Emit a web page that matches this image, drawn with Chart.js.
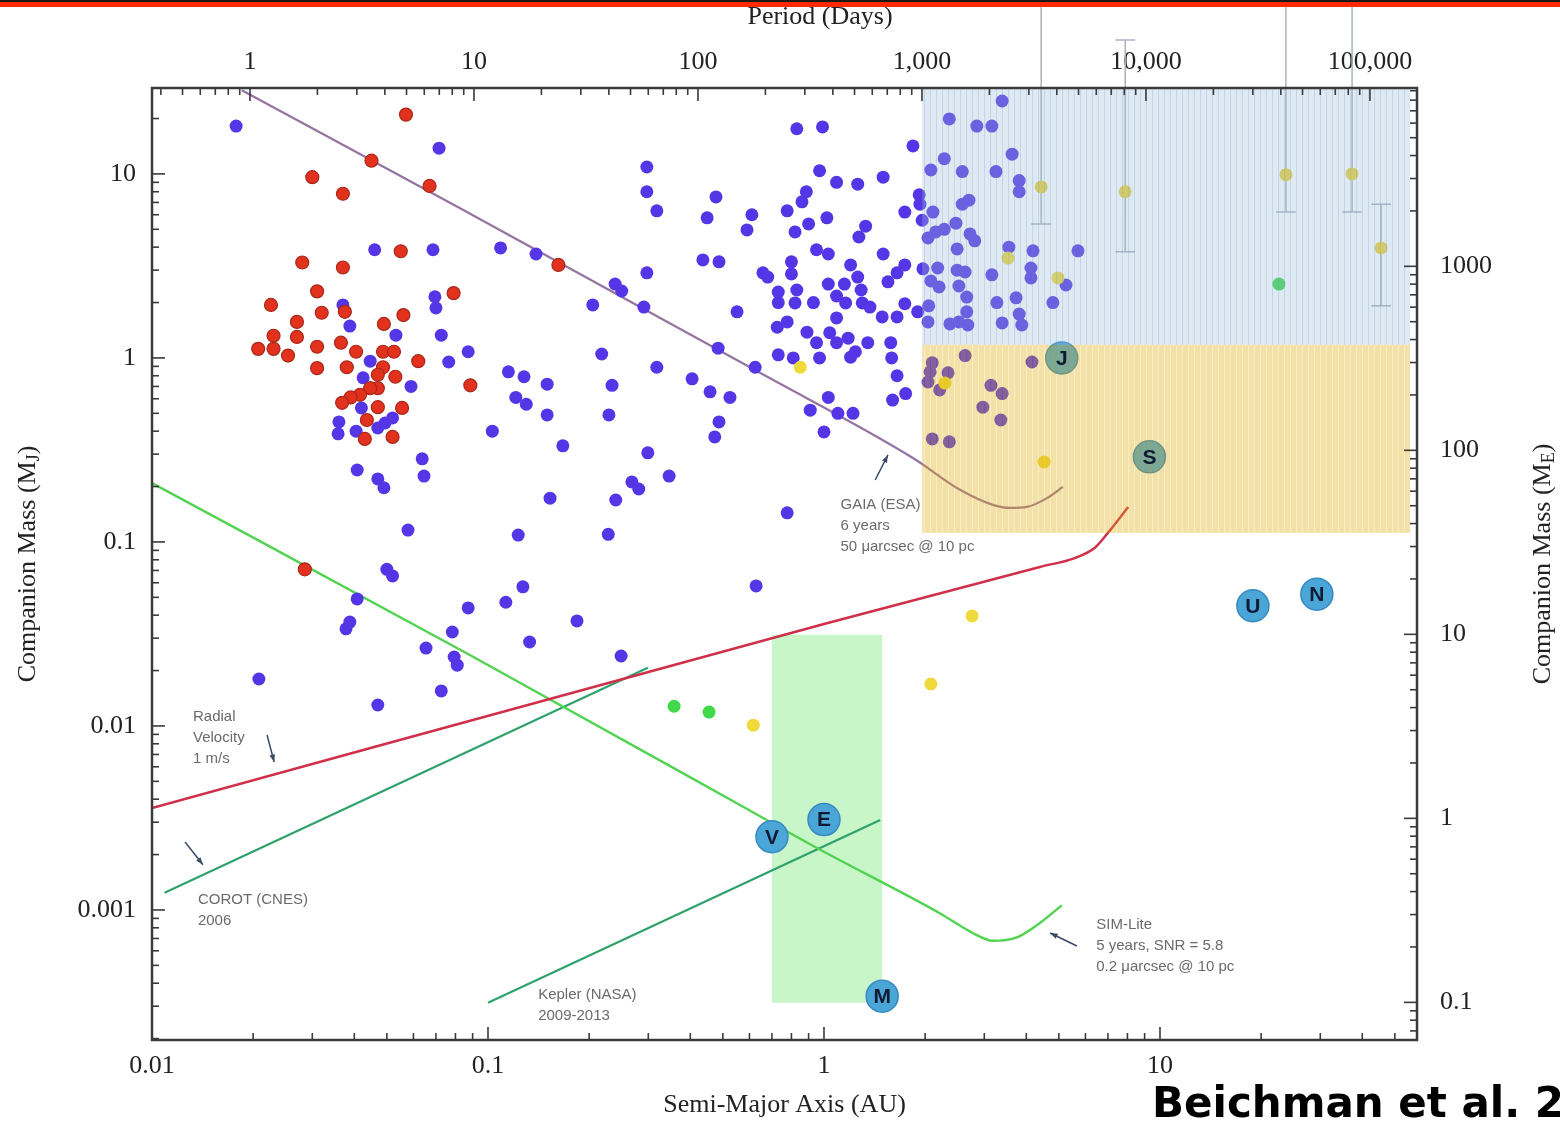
<!DOCTYPE html>
<html lang="en">
<head>
<meta charset="UTF-8" />
<title>Companion mass vs semi-major axis</title>
<script src="https://cdn.jsdelivr.net/npm/chart.js"></script>
<style>
  html, body { margin: 0; padding: 0; background: #fff; overflow: hidden; }
  #wrap { position: relative; width: 1560px; height: 1125px; }
  #topbar { position: absolute; left: 0; top: 0; width: 1560px; height: 5px; background: #ff2a00; border-top: 2px solid #1a1a1a; }
  #cite { position: absolute; left: 1152px; top: 1082px; font: bold 42px "DejaVu Sans", sans-serif; line-height: 42px; white-space: nowrap; color: #000; }
</style>
</head>
<body>
<div id="wrap">
  <canvas id="chart" width="1560" height="1125"></canvas>
  <div id="topbar"></div>
  <div id="cite">Beichman et al. 2009</div>
</div>
<script>
// axis ranges (AU, Jupiter masses) and conversions for the twin axes
const AU_MIN = 0.01, AU_MAX = 58.2;
const MJ_MIN = 0.0001965, MJ_MAX = 29.3;
const EARTH_PER_JUPITER = 317.8;
const DAYS_PER_YEAR = 365.25;

const X_TICKS = [0.01, 0.1, 1, 10];
const Y_TICKS = [0.001, 0.01, 0.1, 1, 10];
const PERIOD_TICKS = [1, 10, 100, 1000, 10000, 100000];
const EARTH_TICKS = [0.1, 1, 10, 100, 1000];

// known planets (blue dots)
const BLUE_AU = [
  0.0178, 0.0715, 0.046, 0.0686, 0.0695, 0.070, 0.037, 0.0388, 0.0532, 0.0726, 0.0764, 0.0873,
  0.0446, 0.0425, 0.059, 0.042, 0.036, 0.0405, 0.047, 0.0494, 0.052, 0.0358, 0.0637, 0.0645,
  0.0408, 0.047, 0.049, 0.0578, 0.050, 0.052, 0.0408, 0.0388, 0.0378, 0.0873, 0.0783, 0.0654,
  0.0793, 0.081, 0.0726, 0.0208, 0.047, 0.297, 0.297, 0.318, 0.477, 0.449, 0.61, 0.59,
  0.109, 0.139, 0.297, 0.436, 0.487, 0.658, 0.68, 0.239, 0.25, 0.205, 0.291, 0.551,
  0.731, 0.731, 0.726, 0.731, 0.115, 0.128, 0.15, 0.121, 0.130, 0.218, 0.234, 0.318,
  0.484, 0.624, 0.405, 0.458, 0.525, 0.15, 0.229, 0.487, 0.473, 0.103, 0.167, 0.299,
  0.346, 0.268, 0.281, 0.153, 0.24, 0.123, 0.228, 0.127, 0.113, 0.184, 0.133, 0.249,
  0.628, 0.83, 0.99, 1.84, 2.36, 2.85, 3.16, 3.39, 3.63, 2.28, 2.08, 2.58,
  3.25, 3.81, 3.81, 0.97, 1.09, 1.26, 1.50, 0.886, 0.86, 0.777, 1.02, 0.90,
  0.82, 1.33, 1.27, 1.74, 1.92, 1.93, 1.96, 2.11, 2.70, 2.58, 2.47, 2.28,
  2.15, 2.04, 2.72, 2.81, 0.95, 1.03, 1.50, 2.49, 3.55, 4.19, 5.7, 0.80,
  0.80, 1.20, 1.26, 1.74, 1.65, 1.55, 1.97, 2.18, 2.49, 2.63, 3.16, 4.13,
  4.13, 5.25, 1.03, 1.15, 0.83, 1.09, 1.29, 2.08, 2.2, 2.52, 2.66, 0.82,
  0.93, 1.16, 1.30, 1.37, 1.74, 1.90, 2.05, 2.66, 3.27, 3.73, 3.81, 4.80,
  1.49, 1.65, 1.09, 0.777, 2.04, 2.37, 2.52, 2.68, 3.39, 3.88, 0.89, 0.81,
  0.97, 0.95, 1.04, 1.18, 1.09, 1.24, 1.2, 1.35, 1.58, 1.59, 1.65, 1.75,
  1.6, 1.03, 0.91, 1.10, 1.22, 1.0, 0.777, 2.63, 2.10, 2.34, 2.07, 2.04,
  2.21, 3.14, 3.39, 2.97, 3.36, 4.16, 2.10, 2.36
];
const BLUE_MJ = [
  18.2, 13.8, 3.87, 3.87, 2.15, 1.87, 1.94, 1.49, 1.33, 1.33, 0.95, 1.08,
  0.96, 0.78, 0.70, 0.535, 0.449, 0.40, 0.416, 0.443, 0.472, 0.387, 0.283, 0.228,
  0.246, 0.22, 0.197, 0.116, 0.071, 0.0654, 0.049, 0.0367, 0.0337, 0.0438, 0.0324, 0.0265,
  0.0237, 0.0214, 0.0155, 0.018, 0.013, 10.9, 8.0, 6.3, 7.5, 5.77, 6.0, 4.96,
  3.96, 3.67, 2.9, 3.41, 3.33, 2.9, 2.75, 2.52, 2.31, 1.94, 1.89, 1.78,
  2.0, 2.28, 1.47, 1.04, 0.84, 0.79, 0.72, 0.61, 0.56, 1.05, 0.71, 0.89,
  1.13, 0.89, 0.77, 0.654, 0.61, 0.49, 0.49, 0.449, 0.372, 0.40, 0.333, 0.305,
  0.228, 0.212, 0.194, 0.173, 0.169, 0.109, 0.11, 0.057, 0.047, 0.0372, 0.0286, 0.024,
  0.0577, 17.6, 18.0, 14.2, 19.9, 18.2, 18.2, 24.9, 12.8, 12.1, 10.5, 10.3,
  10.3, 9.2, 8.0, 10.4, 9.0, 8.8, 9.6, 8.0, 7.05, 6.3, 5.77, 5.35,
  4.84, 5.2, 4.54, 6.2, 7.7, 6.85, 5.6, 6.2, 7.2, 6.85, 5.4, 5.0,
  4.84, 4.49, 4.72, 4.33, 3.87, 3.67, 3.67, 3.91, 4.0, 3.82, 3.82, 3.33,
  2.86, 3.2, 2.75, 3.2, 2.9, 2.59, 3.05, 3.08, 3.0, 2.93, 2.83, 3.08,
  2.72, 2.49, 2.52, 2.52, 2.34, 2.17, 2.34, 2.62, 2.43, 2.46, 2.14, 1.99,
  2.0, 1.99, 1.99, 1.89, 1.97, 1.78, 1.92, 1.78, 2.0, 2.12, 1.73, 2.0,
  1.67, 1.67, 1.65, 1.57, 1.57, 1.53, 1.57, 1.51, 1.55, 1.51, 1.38, 1.0,
  1.0, 1.21, 1.37, 1.28, 1.21, 1.08, 1.01, 1.21, 1.21, 1.0, 0.80, 0.64,
  0.59, 0.61, 0.52, 0.50, 0.50, 0.396, 0.144, 1.03, 0.94, 0.83, 0.84, 0.74,
  0.67, 0.71, 0.64, 0.54, 0.46, 0.95, 0.363, 0.35
];

// transiting planets (red dots)
const RED_AU = [
  0.057, 0.045, 0.067, 0.030, 0.037, 0.055, 0.028, 0.037, 0.031, 0.079, 0.0226, 0.032,
  0.0375, 0.056, 0.027, 0.049, 0.023, 0.027, 0.0207, 0.023, 0.031, 0.0365, 0.0254, 0.0405,
  0.0487, 0.0525, 0.062, 0.031, 0.038, 0.0487, 0.053, 0.047, 0.047, 0.0446, 0.0416, 0.039,
  0.0368, 0.047, 0.0555, 0.0886, 0.0436, 0.043, 0.052, 0.0285, 0.162
];
const RED_MJ = [
  21, 11.8, 8.6, 9.6, 7.8, 3.8, 3.3, 3.1, 2.3, 2.25, 1.94, 1.76,
  1.78, 1.71, 1.57, 1.53, 1.32, 1.30, 1.12, 1.12, 1.15, 1.21, 1.03, 1.08,
  1.08, 1.08, 0.96, 0.88, 0.89, 0.89, 0.79, 0.81, 0.685, 0.685, 0.63, 0.61,
  0.57, 0.54, 0.535, 0.71, 0.46, 0.363, 0.372, 0.071, 3.2
];

// imaging / microlensing (yellow dots), and those with error bars
const YELLOW_AU = [0.85, 3.53, 4.97, 2.29, 4.52, 2.76, 2.08, 0.616];
const YELLOW_MJ = [0.89, 3.49, 2.72, 0.73, 0.272, 0.0396, 0.0169, 0.0101];
const ERR_AU = [4.43, 7.88, 23.7, 37.3, 45.5];
const ERR_MJ = [8.5, 8.0, 9.9, 10.0, 3.96];
const ERR_LO = [5.35, 3.77, 6.2, 6.2, 1.92];
const ERR_HI = [90, 53.5, 90, 90, 6.85];
const ERR_CAP_HI = [false, true, false, false, true];
const ERR_CAP = 1.07;

// green dots
const GREEN_AU = [0.358, 0.455, 22.6];
const GREEN_MJ = [0.0128, 0.0119, 2.52];

// solar system planets
const PLANET_NAMES = ['V', 'E', 'M', 'J', 'S', 'U', 'N'];
const PLANET_AU = [0.70, 1.0, 1.49, 5.1, 9.3, 18.9, 29.3];
const PLANET_MJ = [0.0025, 0.0031, 0.00034, 1.0, 0.29, 0.045, 0.052];

// detection limit curves
const GAIA_AU = [0.0185, 0.0826, 0.645, 1.84, 2.54, 3.18, 3.58, 4.02, 4.61, 5.14];
const GAIA_MJ = [28.5, 6.5, 0.83, 0.286, 0.192, 0.159, 0.153, 0.155, 0.173, 0.199];
const SIM_AU = [0.01, 0.0883, 0.562, 0.953, 2.21, 2.77, 3.18, 3.75, 4.39, 5.1];
const SIM_MJ = [0.209, 0.0243, 0.00372, 0.00217, 0.00096, 0.00075, 0.00068, 0.00071, 0.00085, 0.00106];
const RV_AU = [0.01, 1.0, 4.39, 5.6, 6.4, 7.0, 8.04];
const RV_MJ = [0.00358, 0.0358, 0.0731, 0.082, 0.093, 0.112, 0.155];
const COROT_AU = [0.0109, 0.299];
const COROT_MJ = [0.00124, 0.0207];
const KEPLER_AU = [0.1, 1.47];
const KEPLER_MJ = [0.000313, 0.00308];

// shaded zones
const HZ_AU = [0.70, 1.49], HZ_MJ = [0.000313, 0.0313];
const BLUE_ZONE_AU = [1.96, 55.5], BLUE_ZONE_MJ = [1.18, 29.3];
const GOLD_ZONE_AU = [1.96, 55.5], GOLD_ZONE_MJ = [0.112, 1.18];

// annotations
const NOTE_TEXT = [
  ['GAIA (ESA)', '6 years', '50 μarcsec @ 10 pc'],
  ['Radial', 'Velocity', '1 m/s'],
  ['COROT (CNES)', '2006'],
  ['Kepler (NASA)', '2009-2013'],
  ['SIM-Lite', '5 years, SNR = 5.8', '0.2 μarcsec @ 10 pc']
];
const NOTE_AU = [1.12, 0.01324, 0.0137, 0.141, 6.46];
const NOTE_MJ = [0.159, 0.0112, 0.00113, 0.000345, 0.000828];
const ARROW_FROM_AU = [1.42, 0.022, 0.01254, 5.66];
const ARROW_FROM_MJ = [0.217, 0.00893, 0.00234, 0.000637];
const ARROW_TO_AU = [1.55, 0.0231, 0.01418, 4.71];
const ARROW_TO_MJ = [0.297, 0.00637, 0.00176, 0.00075];

const SERIF = '"Liberation Serif", "Times New Roman", serif';
const SANS = '"Liberation Sans", Arial, sans-serif';

const pts = (xs, ys) => xs.map((v, i) => ({ x: v, y: ys[i] }));

const errData = [];
ERR_AU.forEach((a, i) => {
  errData.push({ x: a, y: ERR_HI[i] }, { x: a, y: ERR_LO[i] }, { x: a, y: null });
  errData.push({ x: a / ERR_CAP, y: ERR_LO[i] }, { x: a * ERR_CAP, y: ERR_LO[i] }, { x: a, y: null });
  if (ERR_CAP_HI[i]) errData.push({ x: a / ERR_CAP, y: ERR_HI[i] }, { x: a * ERR_CAP, y: ERR_HI[i] }, { x: a, y: null });
});

function curve(xs, ys, color, width, order) {
  return {
    data: pts(xs, ys), showLine: true, pointRadius: 0, borderColor: color,
    borderWidth: width, cubicInterpolationMode: 'monotone', order
  };
}

function dots(xs, ys, fill, border, order) {
  return {
    data: pts(xs, ys), pointRadius: 6.5, pointBackgroundColor: fill,
    pointBorderColor: border, pointBorderWidth: border ? 1.2 : 0, order
  };
}

function stripes(ctx, base, line) {
  const c = document.createElement('canvas');
  c.width = 6; c.height = 1;
  const g = c.getContext('2d');
  g.fillStyle = base; g.fillRect(1, 0, 5, 1);
  g.fillStyle = line; g.fillRect(0, 0, 1, 1);
  return ctx.createPattern(c, 'repeat');
}

function zone(ctx, x, y, au, mj, style) {
  const x0 = x.getPixelForValue(au[0]), x1 = x.getPixelForValue(au[1]);
  const y0 = y.getPixelForValue(mj[1]), y1 = y.getPixelForValue(mj[0]);
  ctx.fillStyle = style;
  ctx.fillRect(x0, y0, x1 - x0, y1 - y0);
}

function minorTicks(ctx, scale, side, ca) {
  const lo = Math.floor(Math.log10(scale.min)), hi = Math.ceil(Math.log10(scale.max));
  for (let d = lo; d <= hi; d++) {
    for (let k = 1; k <= 9; k++) {
      const v = k * Math.pow(10, d);
      if (v < scale.min * 0.999999 || v > scale.max * 1.000001) continue;
      const p = scale.getPixelForValue(v);
      const len = k === 1 ? 13 : 7;
      ctx.beginPath();
      if (side === 'bottom') { ctx.moveTo(p, ca.bottom); ctx.lineTo(p, ca.bottom - len); }
      if (side === 'top') { ctx.moveTo(p, ca.top); ctx.lineTo(p, ca.top + len); }
      if (side === 'left') { ctx.moveTo(ca.left, p); ctx.lineTo(ca.left + len, p); }
      if (side === 'right') { ctx.moveTo(ca.right, p); ctx.lineTo(ca.right - len, p); }
      ctx.stroke();
    }
  }
}

function vTitle(ctx, cx, cy, main, sub) {
  ctx.save();
  ctx.translate(cx, cy);
  ctx.rotate(-Math.PI / 2);
  const big = '26px ' + SERIF, small = '18px ' + SERIF;
  ctx.font = big;
  const w1 = ctx.measureText(main).width, w3 = ctx.measureText(')').width;
  ctx.font = small;
  const w2 = ctx.measureText(sub).width;
  const x0 = -(w1 + w2 + w3) / 2;
  ctx.textBaseline = 'middle';
  ctx.fillStyle = '#222';
  ctx.font = big; ctx.fillText(main, x0, 0);
  ctx.font = small; ctx.fillText(sub, x0 + w1, 6);
  ctx.font = big; ctx.fillText(')', x0 + w1 + w2, 0);
  ctx.restore();
}

function arrow(ctx, x0, y0, x1, y1) {
  const ang = Math.atan2(y1 - y0, x1 - x0);
  ctx.beginPath(); ctx.moveTo(x0, y0); ctx.lineTo(x1, y1); ctx.stroke();
  ctx.beginPath();
  ctx.moveTo(x1, y1);
  ctx.lineTo(x1 - 8 * Math.cos(ang - 0.35), y1 - 8 * Math.sin(ang - 0.35));
  ctx.lineTo(x1 - 8 * Math.cos(ang + 0.35), y1 - 8 * Math.sin(ang + 0.35));
  ctx.closePath(); ctx.fill();
}

const decor = {
  id: 'decor',
  beforeDatasetsDraw(chart) {
    const { ctx, scales: { x, y } } = chart;
    ctx.save();
    zone(ctx, x, y, HZ_AU, HZ_MJ, '#c9f6c9');
    ctx.restore();
  },
  afterDatasetsDraw(chart) {
    const { ctx, scales: { x, y } } = chart;
    ctx.save();
    zone(ctx, x, y, BLUE_ZONE_AU, BLUE_ZONE_MJ, stripes(ctx, 'rgba(150,186,218,0.32)', 'rgba(130,160,195,0.45)'));
    zone(ctx, x, y, GOLD_ZONE_AU, GOLD_ZONE_MJ, stripes(ctx, 'rgba(222,172,10,0.36)', 'rgba(222,172,10,0.22)'));
    // planet letters
    const meta = chart.getDatasetMeta(0);
    ctx.font = 'bold 21px ' + SANS;
    ctx.fillStyle = '#101a33';
    ctx.textAlign = 'center';
    ctx.textBaseline = 'middle';
    meta.data.forEach((p, i) => ctx.fillText(PLANET_NAMES[i], p.x, p.y + 1));
    ctx.restore();
  },
  afterDraw(chart) {
    const { ctx, chartArea: ca, scales } = chart;
    ctx.save();
    // frame and inward ticks
    ctx.strokeStyle = '#3a3a3a';
    ctx.lineWidth = 1.6;
    minorTicks(ctx, scales.x, 'bottom', ca);
    minorTicks(ctx, scales.x2, 'top', ca);
    minorTicks(ctx, scales.y, 'left', ca);
    minorTicks(ctx, scales.y2, 'right', ca);
    ctx.lineWidth = 2.5;
    ctx.strokeRect(ca.left, ca.top, ca.right - ca.left, ca.bottom - ca.top);

    // axis titles
    const cy = (ca.top + ca.bottom) / 2;
    vTitle(ctx, 28, cy, 'Companion Mass (M', 'J');
    vTitle(ctx, 1543, cy, 'Companion Mass (M', 'E');
    ctx.font = '26px ' + SERIF;
    ctx.fillStyle = '#222';
    ctx.textAlign = 'center';
    ctx.textBaseline = 'middle';
    ctx.fillText('Period (Days)', 820, 17);

    // instrument notes
    ctx.font = '15px ' + SANS;
    ctx.fillStyle = '#6a6a6a';
    ctx.textAlign = 'left';
    NOTE_TEXT.forEach((lines, i) => {
      const px = scales.x.getPixelForValue(NOTE_AU[i]);
      const py = scales.y.getPixelForValue(NOTE_MJ[i]);
      lines.forEach((t, j) => ctx.fillText(t, px, py + j * 21));
    });
    ctx.strokeStyle = '#3b4a66';
    ctx.fillStyle = '#3b4a66';
    ctx.lineWidth = 1.5;
    ARROW_FROM_AU.forEach((a, i) => arrow(ctx,
      scales.x.getPixelForValue(a), scales.y.getPixelForValue(ARROW_FROM_MJ[i]),
      scales.x.getPixelForValue(ARROW_TO_AU[i]), scales.y.getPixelForValue(ARROW_TO_MJ[i])));
    ctx.restore();
  }
};

function fixedTicks(list) {
  return scale => { scale.ticks = list.map(v => ({ value: v })); };
}

const tickFont = { family: SERIF, size: 26 };

new Chart(document.getElementById('chart'), {
  type: 'scatter',
  data: {
    datasets: [
      {
        data: pts(PLANET_AU, PLANET_MJ), pointRadius: 16, pointBackgroundColor: '#4ba6d8',
        pointBorderColor: '#3889bf', pointBorderWidth: 1.5, order: 1
      },
      dots(YELLOW_AU, YELLOW_MJ, '#f0d93a', null, 2),
      dots(ERR_AU, ERR_MJ, '#ecd23a', null, 2),
      dots(RED_AU, RED_MJ, '#e2321e', '#a9281c', 3),
      dots(BLUE_AU, BLUE_MJ, '#5536e6', null, 4),
      dots(GREEN_AU, GREEN_MJ, '#3fd94a', null, 5),
      {
        data: errData, showLine: true, pointRadius: 0, borderColor: '#aab3bc',
        borderWidth: 1.5, spanGaps: false, clip: false, order: 6
      },
      curve(GAIA_AU, GAIA_MJ, '#9474a0', 2.2, 7),
      curve(RV_AU, RV_MJ, '#cf2f48', 2.4, 8),
      curve(SIM_AU, SIM_MJ, '#52d352', 2.4, 9),
      curve(COROT_AU, COROT_MJ, '#2ea26c', 2.2, 10),
      curve(KEPLER_AU, KEPLER_MJ, '#2ea26c', 2.2, 11)
    ]
  },
  options: {
    responsive: false,
    animation: false,
    events: [],
    layout: { padding: 0 },
    plugins: { legend: { display: false }, tooltip: { enabled: false } },
    scales: {
      x: {
        type: 'logarithmic', position: 'bottom', min: AU_MIN, max: AU_MAX,
        afterBuildTicks: fixedTicks(X_TICKS),
        afterFit: s => { s.height = 85; },
        ticks: { autoSkip: false, maxRotation: 0, padding: 3, font: tickFont, color: '#222', callback: v => String(v) },
        grid: { display: false }, border: { display: false },
        title: { display: true, text: 'Semi-Major Axis (AU)', font: { family: SERIF, size: 26 }, color: '#222', padding: { top: 0, bottom: 4 } }
      },
      x2: {
        type: 'logarithmic', position: 'top',
        min: DAYS_PER_YEAR * Math.pow(AU_MIN, 1.5), max: DAYS_PER_YEAR * Math.pow(AU_MAX, 1.5),
        afterBuildTicks: fixedTicks(PERIOD_TICKS),
        afterFit: s => { s.height = 88; },
        ticks: { autoSkip: false, maxRotation: 0, padding: 2, font: tickFont, color: '#222', callback: v => v.toLocaleString('en-US') },
        grid: { display: false }, border: { display: false }
      },
      y: {
        type: 'logarithmic', position: 'left', min: MJ_MIN, max: MJ_MAX,
        afterBuildTicks: fixedTicks(Y_TICKS),
        afterFit: s => { s.width = 152; },
        ticks: { autoSkip: false, padding: 8, font: tickFont, color: '#222', callback: v => String(v) },
        grid: { display: false }, border: { display: false }
      },
      y2: {
        type: 'logarithmic', position: 'right',
        min: MJ_MIN * EARTH_PER_JUPITER, max: MJ_MAX * EARTH_PER_JUPITER,
        afterBuildTicks: fixedTicks(EARTH_TICKS),
        afterFit: s => { s.width = 143; },
        ticks: { autoSkip: false, padding: 15, font: tickFont, color: '#222', callback: v => String(v) },
        grid: { display: false }, border: { display: false }
      }
    }
  },
  plugins: [decor]
});
</script>
</body>
</html>
